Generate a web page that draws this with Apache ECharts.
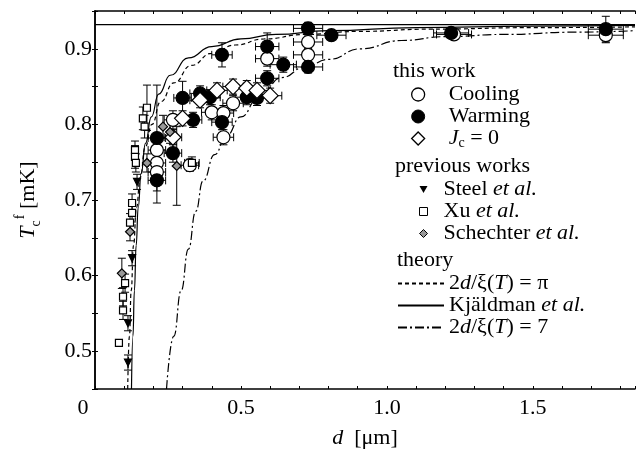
<!DOCTYPE html>
<html><head><meta charset="utf-8">
<script src="https://cdn.jsdelivr.net/npm/echarts@6/dist/echarts.min.js"></script>
<style>html,body{margin:0;padding:0;background:#fff}#c{width:640px;height:463px}</style>
</head><body><div id="c"></div>
<script>
// ---- data ----
// each point: [d (um), Tc (mK), d error, Tc error]
const cooling = [
  [0.212,0.766,0.03,0.010],[0.212,0.749,0.03,0.010],[0.212,0.737,0.03,0.010],
  [0.267,0.806,0.03,0.012],[0.325,0.746,0.03,0.008],[0.400,0.816,0.035,0.010],
  [0.440,0.815,0.035,0.010],[0.440,0.783,0.035,0.010],[0.473,0.828,0.035,0.010],
  [0.590,0.887,0.04,0.010],[0.730,0.909,0.05,0.008],[0.730,0.892,0.05,0.008],
  [1.230,0.919,0.06,0.006],[1.750,0.918,0.06,0.010]
];
const warming = [
  [0.212,0.782,0.03,0.070],[0.212,0.726,0.03,0.030],[0.267,0.762,0.03,0.012],
  [0.300,0.835,0.03,0.022],[0.336,0.806,0.03,0.010],[0.360,0.841,0.035,0.010],
  [0.394,0.836,0.035,0.010],[0.435,0.892,0.035,0.016],[0.435,0.803,0.035,0.010],
  [0.520,0.836,0.04,0.010],[0.555,0.835,0.04,0.010],[0.590,0.861,0.04,0.010],
  [0.590,0.903,0.04,0.018],[0.645,0.879,0.045,0.010],[0.730,0.927,0.05,0.008],
  [0.730,0.876,0.05,0.008],[0.810,0.918,0.05,0.006],[1.220,0.921,0.06,0.006],
  [1.750,0.926,0.06,0.017]
];
const jc0 = [
  [0.267,0.783,0.03,0.010],[0.300,0.808,0.03,0.010],[0.360,0.832,0.035,0.010],
  [0.418,0.845,0.035,0.010],[0.473,0.850,0.035,0.010],[0.520,0.848,0.04,0.010],
  [0.555,0.845,0.04,0.010],[0.600,0.838,0.04,0.010]
];
const steel = [
  [0.144,0.724,0,0.010],[0.127,0.623,0,0.010],[0.113,0.537,0,0.010],[0.113,0.485,0,0.010]
];
const xu = [
  [0.178,0.822,0,0.030],[0.164,0.808,0,0.015],[0.170,0.797,0,0.015],[0.137,0.766,0,0.012],
  [0.137,0.757,0,0.015],[0.140,0.749,0,0.012],[0.332,0.749,0.025,0.008],[0.127,0.696,0,0.012],
  [0.127,0.683,0,0.012],[0.120,0.670,0,0.012],[0.103,0.590,0,0.012],[0.096,0.572,0,0.012],
  [0.096,0.554,0,0.012],[0.082,0.511,0,0]
];
const schechter = [
  [0.233,0.797,0,0.015],[0.257,0.790,0,0.015],[0.178,0.749,0,0.012],[0.280,0.745,0,0.052],
  [0.120,0.658,0,0.012],[0.092,0.603,0,0.020]
];
// theory curves [d, Tc]
const curvePi = [
  [0.112,0.45],[0.118,0.52],[0.124,0.58],[0.132,0.64],[0.142,0.69],[0.155,0.73],[0.172,0.77],
  [0.195,0.80],[0.225,0.83],[0.27,0.855],[0.33,0.878],[0.40,0.894],[0.48,0.905],[0.58,0.913],
  [0.72,0.919],[0.90,0.923],[1.15,0.926],[1.50,0.928],[1.85,0.929]
];
const curveKjaldman = [
  [0.125,0.45],[0.130,0.52],[0.135,0.58],[0.141,0.64],[0.148,0.69],[0.158,0.735],[0.173,0.775],
  [0.193,0.81],[0.218,0.84],[0.258,0.865],[0.32,0.888],[0.40,0.903],[0.50,0.913],[0.62,0.919],
  [0.80,0.924],[1.10,0.928],[1.50,0.930],[1.85,0.931]
];
const curveSeven = [
  [0.245,0.45],[0.27,0.52],[0.295,0.58],[0.32,0.635],[0.345,0.685],[0.37,0.725],[0.41,0.76],
  [0.45,0.785],[0.50,0.81],[0.56,0.835],[0.64,0.862],[0.72,0.876],[0.80,0.886],[0.91,0.90],
  [1.05,0.911],[1.20,0.916],[1.40,0.919],[1.65,0.922],[1.85,0.924]
];
const bulkTc = 0.932;
const xRange = [0, 1.85];
const yRange = [0.45, 0.95];
const xTickLabels = [0, 0.5, 1.0, 1.5];
const yTickLabels = [0.5, 0.6, 0.7, 0.8, 0.9];

// ---- chart ----
const FONT = 'Liberation Serif';
const chart = echarts.init(document.getElementById('c'), null, {renderer: 'canvas'});

function errRender(params, api) {
  const d = api.value(0), t = api.value(1), de = api.value(2), te = api.value(3);
  const st = {stroke: '#000', lineWidth: 1};
  const ch = [];
  const cap = 4;
  if (de > 0) {
    const l = api.coord([d - de, t]), r = api.coord([d + de, t]);
    ch.push({type: 'line', shape: {x1: l[0], y1: l[1], x2: r[0], y2: r[1]}, style: st});
    ch.push({type: 'line', shape: {x1: l[0], y1: l[1] - cap, x2: l[0], y2: l[1] + cap}, style: st});
    ch.push({type: 'line', shape: {x1: r[0], y1: r[1] - cap, x2: r[0], y2: r[1] + cap}, style: st});
  }
  if (te > 0) {
    const lo = api.coord([d, t - te]), hi = api.coord([d, t + te]);
    ch.push({type: 'line', shape: {x1: lo[0], y1: lo[1], x2: hi[0], y2: hi[1]}, style: st});
    ch.push({type: 'line', shape: {x1: lo[0] - cap, y1: lo[1], x2: lo[0] + cap, y2: lo[1]}, style: st});
    ch.push({type: 'line', shape: {x1: hi[0] - cap, y1: hi[1], x2: hi[0] + cap, y2: hi[1]}, style: st});
  }
  return {type: 'group', children: ch};
}
function errSeries(data) {
  return {type: 'custom', renderItem: errRender, data: data, encode: {x: 0, y: 1},
    dimensions: ['d', 't', 'de', 'te'], clip: true, z: 1, silent: true};
}
function scatter(name, data, symbol, size, fill, border, extra) {
  return Object.assign({type: 'scatter', name: name, data: data.map(p => [p[0], p[1]]),
    symbol: symbol, symbolSize: size, z: 3,
    itemStyle: {color: fill, borderColor: border, borderWidth: 1.2, opacity: 1}}, extra || {});
}
function line(name, data, type, width) {
  return {type: 'line', name: name, data: data, showSymbol: false, symbol: 'none', symbolSize: 0,
    smooth: true, smoothMonotone: 'x', z: 2, clip: true,
    itemStyle: {color: 'rgba(0,0,0,0)', borderWidth: 0},
    lineStyle: {color: '#000', width: width, type: type}};
}
const textBase = {fontFamily: FONT, fontSize: 22, color: '#000', lineHeight: 23};
const legendNames = {
  'Cooling': '{n|Cooling}', 'Warming': '{n|Warming}', 'Jc0': '{i|J}{s|c}{m| = 0}',
  'Steel': '{p|Steel }{i2|et al.}', 'Xu': '{p|Xu }{i2|et al.}', 'Schechter': '{p|Schechter }{i2|et al.}',
  'pi': '{q|2}{qi|d}{q|/ξ(}{qi|T}{q|) = π}', 'Kjaldman': '{q|Kjäldman }{qi|et al.}',
  'seven': '{q|2}{qi|d}{q|/ξ(}{qi|T}{q|) = 7}'
};
const rich = {
  n: Object.assign({}, textBase, {padding: [0, 0, 0, 19]}),
  i: Object.assign({}, textBase, {fontStyle: 'italic', padding: [0, 0, 0, 19]}),
  s: Object.assign({}, textBase, {fontSize: 14, verticalAlign: 'bottom', lineHeight: 14}),
  m: Object.assign({}, textBase),
  p: Object.assign({}, textBase, {padding: [0, 0, 0, 11]}),
  i2: Object.assign({}, textBase, {fontStyle: 'italic'}),
  q: Object.assign({}, textBase),
  qi: Object.assign({}, textBase, {fontStyle: 'italic'})
};
function legendBase(extra) {
  return Object.assign({orient: 'vertical', align: 'left', padding: 0, itemGap: 0,
    selectedMode: false, formatter: n => legendNames[n],
    textStyle: {fontFamily: FONT, fontSize: 22, color: '#000', rich: rich}}, extra);
}

const option = {
  animation: false,
  backgroundColor: '#fff',
  grid: {left: 95, right: 5, top: 11, bottom: 74},
  xAxis: [{
    type: 'value', min: xRange[0], max: xRange[1], interval: 0.1,
    name: '{i|d}{n|  [μm]}', nameLocation: 'middle', nameGap: 38,
    nameTextStyle: {rich: {i: {fontFamily: FONT, fontSize: 22, fontStyle: 'italic', color: '#000'},
      n: {fontFamily: FONT, fontSize: 22, color: '#000'}}},
    axisLine: {show: true, lineStyle: {color: '#000', width: 1.5}},
    axisTick: {show: true, inside: true, length: 3, lineStyle: {color: '#000', width: 1}},
    splitLine: {show: false},
    axisLabel: {margin: 8, fontFamily: FONT, fontSize: 22, color: '#000',
      formatter: v => {
        const hit = xTickLabels.find(t => Math.abs(t - v) < 1e-6);
        if (hit === undefined) return '';
        return hit === 0 ? '{z|0}' : hit.toFixed(1);
      },
      rich: {z: {fontFamily: FONT, fontSize: 22, color: '#000', padding: [0, 24, 0, 0]}}}
  }, {
    type: 'value', position: 'top', min: xRange[0], max: xRange[1], interval: 0.1,
    axisLine: {show: true, lineStyle: {color: '#000', width: 1.5}},
    axisTick: {show: true, inside: true, length: 3, lineStyle: {color: '#000', width: 1}},
    axisLabel: {show: false}, splitLine: {show: false}
  }],
  yAxis: [{
    type: 'value', min: yRange[0], max: yRange[1], interval: 0.05,
    name: '{i|T}{s|c}{u|f}{n| [mK]}', nameLocation: 'middle', nameRotate: 90, nameGap: 52,
    nameTextStyle: {rich: {
      i: {fontFamily: FONT, fontSize: 22, fontStyle: 'italic', color: '#000', lineHeight: 30},
      s: {fontFamily: FONT, fontSize: 14, color: '#000', verticalAlign: 'bottom', lineHeight: 14},
      u: {fontFamily: FONT, fontSize: 14, color: '#000', verticalAlign: 'top', lineHeight: 14, padding: [0, 0, 0, 1]},
      n: {fontFamily: FONT, fontSize: 22, color: '#000', lineHeight: 30}}},
    axisLine: {show: true, lineStyle: {color: '#000', width: 1.5}},
    axisTick: {show: true, inside: true, length: 3, lineStyle: {color: '#000', width: 1}},
    splitLine: {show: false},
    axisLabel: {margin: 3, fontFamily: FONT, fontSize: 22, color: '#000',
      formatter: v => {
        const hit = yTickLabels.find(t => Math.abs(t - v) < 1e-6);
        return hit === undefined ? '' : hit.toFixed(1);
      }}
  }, {
    type: 'value', position: 'right', min: yRange[0], max: yRange[1], interval: 0.05,
    axisLine: {show: true, lineStyle: {color: '#000', width: 1.5}},
    axisTick: {show: true, inside: true, length: 3, lineStyle: {color: '#000', width: 1}},
    axisLabel: {show: false}, splitLine: {show: false}
  }],
  legend: [
    legendBase({left: 411, top: 83.5, itemWidth: 13, itemHeight: 13,
      data: [
        {name: 'Cooling', icon: 'circle', itemStyle: {color: '#fff', borderColor: '#000', borderWidth: 1.3}},
        {name: 'Warming', icon: 'circle', itemStyle: {color: '#000', borderColor: '#000', borderWidth: 1}},
        {name: 'Jc0', icon: 'diamond', itemStyle: {color: '#fff', borderColor: '#000', borderWidth: 1.3}}
      ]}),
    legendBase({left: 419, top: 178.5, itemWidth: 8, itemHeight: 8,
      data: [
        {name: 'Steel', icon: 'path://M0,0 L10,0 L5,9 Z', itemStyle: {color: '#000', borderColor: '#000', borderWidth: 0}},
        {name: 'Xu', icon: 'rect', itemStyle: {color: '#fff', borderColor: '#000', borderWidth: 1}},
        {name: 'Schechter', icon: 'diamond', itemStyle: {color: '#999', borderColor: '#000', borderWidth: 1}}
      ]}),
    legendBase({left: 397, top: 272.5, itemWidth: 46, itemHeight: 14,
      data: [
        {name: 'pi', itemStyle: {color: 'rgba(0,0,0,0)', borderWidth: 0}},
        {name: 'Kjaldman', itemStyle: {color: 'rgba(0,0,0,0)', borderWidth: 0}},
        {name: 'seven', itemStyle: {color: 'rgba(0,0,0,0)', borderWidth: 0}}
      ]})
  ],
  graphic: [
    {type: 'text', left: 393, top: 60, style: {text: 'this work', font: '22px "Liberation Serif"', fill: '#000'}},
    {type: 'text', left: 395, top: 155, style: {text: 'previous works', font: '22px "Liberation Serif"', fill: '#000'}},
    {type: 'text', left: 397, top: 249, style: {text: 'theory', font: '22px "Liberation Serif"', fill: '#000'}}
  ],
  series: [
    line('pi', curvePi, [4, 3], 1.2),
    line('Kjaldman', curveKjaldman, 'solid', 1.2),
    line('seven', curveSeven, [9, 3, 2, 3], 1.2),
    {type: 'line', name: 'bulk', data: [[xRange[0], bulkTc], [xRange[1], bulkTc]], showSymbol: false,
      symbol: 'none', z: 2, lineStyle: {color: '#000', width: 1.2}},
    errSeries(cooling), errSeries(warming), errSeries(jc0),
    errSeries(steel), errSeries(xu), errSeries(schechter),
    scatter('Cooling', cooling, 'circle', 13, '#fff', '#000'),
    scatter('Warming', warming, 'circle', 13, '#000', '#000'),
    scatter('Jc0', jc0, 'diamond', 16, '#fff', '#000'),
    scatter('Xu', xu, 'rect', 7, '#fff', '#000'),
    scatter('Schechter', schechter, 'diamond', 9, '#999', '#000'),
    scatter('Steel', steel, 'triangle', 7, '#000', '#000', {symbolRotate: 180})
  ]
};
chart.setOption(option);
</script>
</body></html>
